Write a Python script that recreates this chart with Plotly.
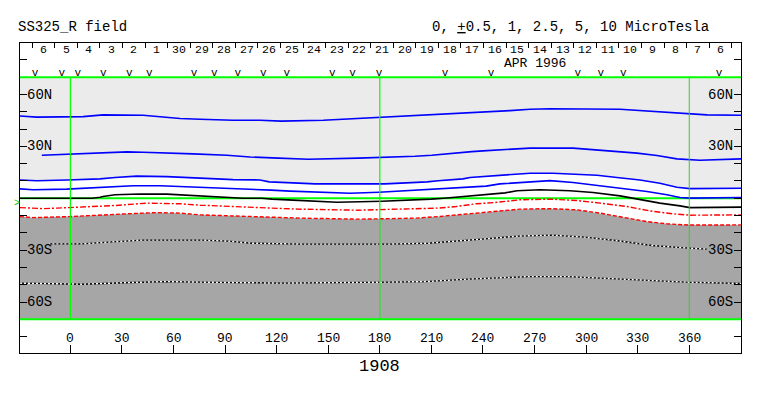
import plotly.graph_objects as go
import pandas as pd

FONT = "Liberation Mono"

# ---------------- data ----------------
# contour lines: longitude (deg) and latitude (deg)
a_lon = [-29.3, -19.5, 7.4, 19.0, 42.3, 63.8, 75.4, 94.6, 110.3, 122.5, 147.1, 159.4, 169.5, 179.1,
         191.8, 204.4, 216.9, 229.2, 238.3, 247.4, 255.7, 267.4, 279.0, 319.7, 335.4, 350.5, 359.8, 370.3, 390.1]
a_lat = [47.6, 46.9, 47.2, 48.2, 48.0, 46.1, 45.7, 45.1, 45.1, 44.6, 45.1, 45.7, 46.3, 46.9,
         47.5, 48.0, 48.6, 49.2, 49.8, 50.3, 50.7, 51.5, 51.8, 51.5, 50.5, 49.2, 48.6, 48.2, 48.0]

b_lon = [-16.6, -0.2, 17.3, 33.0, 42.3, 58.0, 71.4, 91.1, 104.5, 121.0, 138.4, 167.5, 187.9, 200.5,
         210.2, 217.9, 225.7, 233.5, 240.0, 247.4, 255.7, 267.4, 292.4, 304.0, 317.9, 329.6, 341.2,
         352.8, 366.2, 385.4, 390.1]
b_lat = [24.9, 25.5, 26.4, 26.8, 26.6, 26.2, 25.7, 24.9, 23.9, 23.2, 22.6, 23.2, 23.8, 24.3,
         24.9, 25.7, 26.2, 27.0, 27.4, 27.8, 28.4, 29.0, 29.0, 28.0, 27.2, 26.1, 24.7,
         22.8, 22.0, 22.6, 22.8]

c_lon = [-29.3, -19.5, -2.1, 17.3, 26.0, 38.6, 56.1, 70.6, 83.0, 94.6, 110.3, 115.6, 129.5, 142.3,
         183.0, 199.3, 207.5, 213.9, 220.8, 228.4, 232.5, 240.0, 247.4, 255.7, 267.4, 280.7, 292.4,
         306.3, 317.9, 331.3, 342.9, 352.8, 360.4, 390.1]
c_lat = [10.6, 10.1, 10.6, 11.2, 12.0, 12.8, 12.5, 11.8, 11.4, 10.8, 10.6, 9.5, 8.9, 8.3,
         8.3, 8.9, 9.5, 10.1, 10.6, 11.2, 12.0, 12.5, 13.1, 13.9, 14.5, 14.5, 13.9,
         13.3, 12.0, 10.6, 8.7, 6.4, 5.6, 5.8]

d_lon = [-29.3, -21.7, -2.1, 17.3, 36.5, 52.2, 63.8, 75.4, 87.1, 106.0, 116.7, 127.8, 141.2, 162.7,
         179.5, 190.0, 205.1, 216.8, 224.3, 233.0, 241.8, 249.9, 267.4, 279.0, 292.4, 308.1, 321.4,
         335.4, 347.0, 354.6, 360.4, 390.1]
d_lat = [5.4, 4.9, 5.3, 6.4, 7.2, 7.2, 6.8, 6.2, 5.8, 5.0, 4.7, 4.1, 3.5, 2.9,
         3.5, 4.1, 4.7, 5.3, 5.8, 6.4, 7.0, 8.3, 9.7, 10.2, 9.1, 7.2, 5.6,
         3.9, 2.0, 0.4, 0.1, 0.4]

e_lon = [-29.3, 12.6, 17.3, 19.0, 26.0, 40.5, 56.2, 67.9, 79.5, 91.1, 100.4, 111.5, 117.3, 129.5,
         144.6, 155.1, 181.3, 201.0, 209.8, 217.3, 223.7, 229.5, 235.4, 244.0, 252.8, 259.8, 273.2,
         290.6, 304.0, 319.7, 331.3, 342.9, 354.6, 360.4, 390.1]
e_lat = [0.0, 0.0, 0.6, 1.0, 2.0, 2.5, 2.4, 1.8, 1.4, 0.6, 0.0, 0.0, -0.5, -1.1,
         -1.7, -2.3, -1.7, -1.1, -0.5, 0.0, 0.6, 1.2, 1.8, 2.4, 3.1, 4.3, 4.9,
         4.3, 3.3, 1.4, -0.9, -2.8, -4.4, -5.4, -5.1]

f_lon = [-29.3, -15.9, -7.7, 7.4, 17.3, 26.0, 44.6, 63.8, 75.4, 91.1, 110.3, 117.3, 132.4, 167.3,
         200.5, 213.9, 224.3, 229.5, 236.0, 246.7, 252.8, 261.5, 279.0, 294.7, 308.1, 323.8, 337.1,
         350.5, 360.4, 390.1]
f_lat = [-5.4, -6.0, -5.7, -5.1, -4.8, -4.2, -2.8, -3.2, -4.0, -4.8, -5.4, -5.7, -6.3, -6.9,
         -6.3, -5.7, -4.8, -4.0, -3.2, -2.5, -1.8, -0.9, -0.5, -1.3, -2.8, -4.8, -7.3,
         -9.0, -9.8, -9.6]

g_lon = [-29.3, -21.7, -0.2, 17.3, 33.0, 50.4, 63.8, 75.4, 94.6, 110.3, 134.2, 168.5, 200.5, 213.9,
         229.5, 241.8, 250.5, 261.5, 279.0, 294.7, 308.1, 321.4, 335.4, 347.0, 359.8, 390.1]
g_lat = [-10.6, -11.2, -10.6, -9.6, -9.0, -8.3, -8.6, -9.6, -10.2, -10.6, -11.5, -12.1, -11.5, -10.6,
         -9.2, -8.3, -7.1, -6.3, -6.0, -6.7, -8.6, -10.9, -13.5, -14.8, -15.5, -15.4]

h_lon = [-12.8, 6.6, 22.1, 41.5, 76.4, 91.9, 105.5, 134.6, 185.9, 208.0, 241.2, 260.4, 280.2,
         299.3, 318.5, 338.3, 357.5, 370.1]
h_lat = [-26.4, -26.4, -25.4, -24.2, -24.2, -24.8, -26.0, -26.5, -26.5, -26.0, -23.5, -21.9, -21.3,
         -22.5, -24.6, -27.3, -28.7, -29.4]

i_lon = [-29.3, -7.0, 6.6, 35.7, 55.1, 74.4, 103.5, 122.5, 185.9, 206.3, 231.3, 266.2, 289.5,
         309.2, 338.3, 357.5, 390.1]
i_lat = [-49.1, -49.7, -49.7, -48.7, -48.2, -48.5, -48.7, -49.1, -48.5, -48.2, -46.8, -45.3, -45.3,
         -46.2, -47.6, -48.5, -49.3]

# observation markers ("v") along the top strip (longitude)
obs_lon = [-20.5, -5.0, 4.3, 19.2, 34.3, 45.9, 71.9, 83.7, 97.4, 112.2, 125.9, 152.4, 164.2, 179.5,
           217.9, 244.7, 295.1, 308.6, 321.6, 377.3]

# longitude tick labels
lon_ticks = [0, 30, 60, 90, 120, 150, 180, 210, 240, 270, 300, 330, 360]
lat_ticks = [-80, -70, -60, -50, -40, -30, -20, -10, 0, 10, 20, 30, 40, 50, 60, 70, 80]
lat_labels = {60: "60N", 30: "30N", -30: "30S", -60: "60S"}
meridians = [0, 180, 360]

# date strip: days from 6 May back to 6 Apr 1996
day_dates = list(pd.date_range("1996-04-06", "1996-05-06", freq="D"))[::-1]
day_labels = [str(d.day) for d in day_dates]
date_range = ["1996-05-07 13:05", "1996-04-05 14:07"]

X_RANGE = [-29.3, 390.1]
Y_RANGE = [-89.5, 89.8]
MAP_LAT = 70

LIGHT = "#ebebeb"
DARK = "#a6a6a6"
GREEN = "#00ff00"

fig = go.Figure()

# dark (southern) fill below line G
fig.add_trace(go.Scatter(
    x=[X_RANGE[0]] + g_lon + [X_RANGE[1], X_RANGE[1], X_RANGE[0]],
    y=[g_lat[0]] + g_lat + [g_lat[-1], -MAP_LAT, -MAP_LAT],
    fill="toself", fillcolor=DARK, line=dict(width=0), mode="lines", hoverinfo="skip"))
# white band between line C and line G
fig.add_trace(go.Scatter(
    x=c_lon + g_lon[::-1], y=c_lat + g_lat[::-1],
    fill="toself", fillcolor="white", line=dict(width=0), mode="lines", hoverinfo="skip"))

# equator
fig.add_trace(go.Scatter(x=X_RANGE, y=[0, 0], mode="lines",
                         line=dict(color=GREEN, width=2), hoverinfo="skip"))

def add_line(x, y, color, width=1.6, dash="solid"):
    fig.add_trace(go.Scatter(x=x, y=y, mode="lines",
                             line=dict(color=color, width=width, dash=dash), hoverinfo="skip"))

add_line(a_lon, a_lat, "#0000ff")
add_line(b_lon, b_lat, "#0000ff")
add_line(c_lon, c_lat, "#0000ff")
add_line(d_lon, d_lat, "#0000ff")
add_line(e_lon, e_lat, "#000000")
add_line(f_lon, f_lat, "#ff0000", 1.4, "6px,2px,2px,2px")
add_line(g_lon, g_lat, "#ff0000", 1.4, "4px,2px")
for lx, ly in ((h_lon, h_lat), (i_lon, i_lat)):
    add_line(lx, ly, "#000000", 1.4)
    add_line(lx, ly, "#ffffff", 1.4, "2px,2px")

# observation markers
fig.add_trace(go.Scatter(x=obs_lon, y=[72.3] * len(obs_lon), mode="text",
                         text=["v"] * len(obs_lon),
                         textfont=dict(family=FONT, size=11, color="black"),
                         hoverinfo="skip"))

# date axis for the day strip
fig.add_trace(go.Scatter(x=[day_dates[0]], y=[0], xaxis="x2", mode="markers",
                         marker=dict(opacity=0), hoverinfo="skip"))

shapes = [dict(type="rect", xref="paper", yref="y", x0=0, x1=1, y0=-MAP_LAT, y1=MAP_LAT,
               fillcolor=LIGHT, line=dict(width=0), layer="below")]
for m in meridians:
    shapes.append(dict(type="line", xref="x", yref="y", x0=m, x1=m, y0=-MAP_LAT, y1=MAP_LAT,
                       line=dict(color=GREEN if m != 360 else "#33cc33", width=1.2 if m != 360 else 1),
                       layer="above"))
for yy in (MAP_LAT, -MAP_LAT):
    shapes.append(dict(type="line", xref="paper", yref="y", x0=0, x1=1, y0=yy, y1=yy,
                       line=dict(color=GREEN, width=2), layer="above"))

ann = []
ann.append(dict(text="SS325_R field", xref="paper", yref="paper", x=-0.006, y=1.05,
                xanchor="left", yanchor="middle", showarrow=False,
                font=dict(family=FONT, size=14, color="black")))
ann.append(dict(text="0, <u>+</u>0.5, 1, 2.5, 5, 10 MicroTesla", xref="paper", yref="paper",
                x=0.9585, y=1.05, xanchor="right", yanchor="middle", showarrow=False,
                font=dict(family=FONT, size=14, color="black")))
ann.append(dict(text="1908", xref="x", yref="paper", x=180, y=-0.042, xanchor="center",
                yanchor="middle", showarrow=False, font=dict(family=FONT, size=17, color="black")))
ann.append(dict(text="APR 1996", xref="x", yref="paper", x=270.3, y=0.934, xanchor="center",
                yanchor="middle", showarrow=False, borderpad=0,
                font=dict(family=FONT, size=13, color="black")))
ann.append(dict(text=">", xref="paper", yref="y", x=-0.004, y=-3.2, xanchor="center",
                yanchor="middle", showarrow=False, font=dict(family=FONT, size=10, color="#00cc00")))
for d, lab in zip(day_dates, day_labels):
    ann.append(dict(text=lab, xref="x2", yref="paper", x=d + pd.Timedelta(hours=12), y=0.979,
                    xanchor="center", yanchor="middle", showarrow=False, borderpad=0,
                    font=dict(family=FONT, size=11.5, color="black")))
for t in lon_ticks:
    ann.append(dict(text=str(t), xref="x", yref="paper", x=t, y=0.048, xanchor="center",
                    yanchor="middle", showarrow=False, font=dict(family=FONT, size=13, color="black")))
for lat, lab in lat_labels.items():
    ann.append(dict(text=lab, xref="paper", yref="y", x=0.0085, y=lat, xanchor="left",
                    yanchor="middle", showarrow=False, borderpad=0,
                    font=dict(family=FONT, size=14, color="black")))
    ann.append(dict(text=lab, xref="paper", yref="y", x=0.9905, y=lat, xanchor="right",
                    yanchor="middle", showarrow=False, borderpad=0,
                    font=dict(family=FONT, size=14, color="black")))

fig.update_layout(
    width=763, height=396,
    margin=dict(l=20, r=22, t=43, b=43),
    paper_bgcolor="white", plot_bgcolor="white",
    showlegend=False,
    shapes=shapes, annotations=ann,
    xaxis=dict(range=X_RANGE, showgrid=False, zeroline=False, showline=True, linecolor="black",
               linewidth=1, mirror=True, ticks="inside", ticklen=8, tickcolor="black",
               tickvals=lon_ticks, showticklabels=False, fixedrange=True),
    xaxis2=dict(type="date", overlaying="x", side="top", range=date_range, showgrid=False,
                zeroline=False, showline=False, ticks="inside", ticklen=5, tickcolor="black",
                tick0="1996-04-06", dtick=86400000, showticklabels=False, fixedrange=True),
    yaxis=dict(range=Y_RANGE, showgrid=False, zeroline=False, showline=True, linecolor="black",
               linewidth=1, mirror="ticks", ticks="inside", ticklen=7, tickcolor="black",
               tickvals=lat_ticks, showticklabels=False, fixedrange=True),
)

fig.write_html("out.html", config={"displayModeBar": False},
               post_script="document.body.style.margin='0';document.body.style.overflow='hidden';")
